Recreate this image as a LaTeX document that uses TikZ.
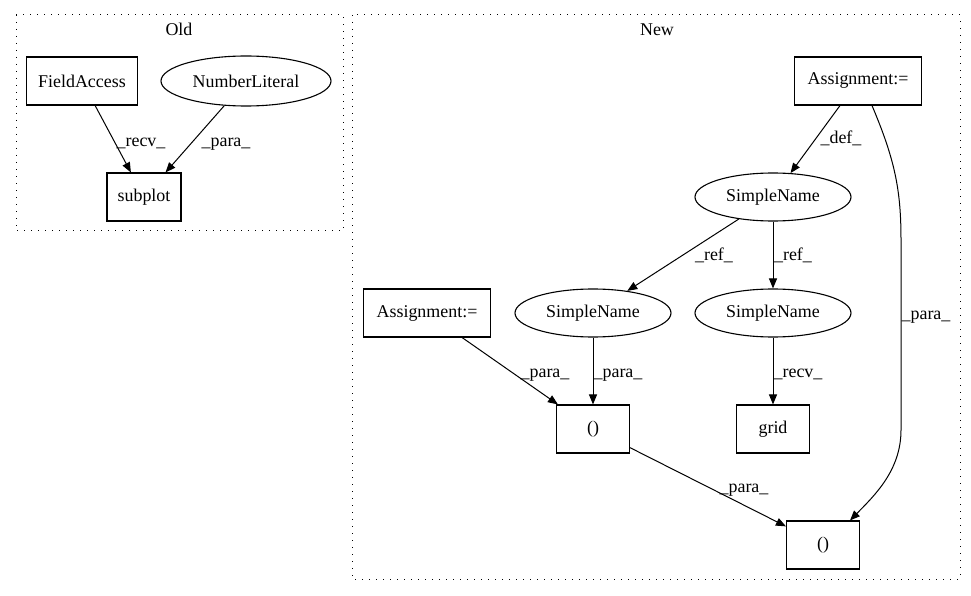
\documentclass[tikz,border=0pt]{standalone}
\usepackage{fontspec}
\setmainfont{Liberation Serif}
\usetikzlibrary{arrows.meta,shapes.geometric}
\begin{document}
\begin{tikzpicture}[x=1bp,y=-1bp,
  every node/.style={font=\fontsize{18}{20}\selectfont},
  boxnode/.style={draw,line width=1.1bp,rectangle,inner sep=0,minimum height=48bp},
  ellnode/.style={draw,line width=1.1bp,ellipse,inner sep=0,minimum height=48bp},
  cluster/.style={draw,line width=1bp,dash pattern=on 1.2bp off 5.8bp},
  edge/.style={line width=1bp,-{Triangle[length=10bp,width=8bp]}},
  elabel/.style={anchor=base,inner sep=0},
  ctitle/.style={anchor=base,inner sep=0}]
\useasboundingbox (0,0) rectangle (971,596);
% clusters
\draw[cluster] (16,15) rectangle (343,231);
\node[ctitle] (oldt) at (179,36) {Old};
\draw[cluster] (352,15) rectangle (960,579);
\node[ctitle] (newt) at (657,36) {New};
% Old nodes
\node[boxnode,minimum width=111bp] (fa) at (82,81) {FieldAccess};
\node[ellnode,minimum width=170bp,minimum height=50bp] (nl) at (246,81) {NumberLiteral};
\node[boxnode,minimum width=74bp] (sp) at (144,197) {subplot};
\draw[edge] (fa) -- (sp);
\draw[edge] (nl) -- (sp);
\node[elabel] (l1) at (141,147) {\_recv\_};
\node[elabel] (l2) at (226,147) {\_para\_};
% New nodes
\node[boxnode,minimum width=127bp] (asg1) at (858,81) {Assignment:=};
\node[ellnode,minimum width=156bp] (sn1) at (773,197) {SimpleName};
\node[boxnode,minimum width=127bp] (asg2) at (427,313) {Assignment:=};
\node[ellnode,minimum width=156bp] (sn2) at (593,313) {SimpleName};
\node[ellnode,minimum width=156bp] (sn3) at (773,313) {SimpleName};
\node[boxnode,minimum width=73bp] (p1) at (593,429) {()};
\node[boxnode,minimum width=73bp] (gr) at (773,429) {grid};
\node[boxnode,minimum width=73bp] (p2) at (823,545) {()};
% edges
\draw[edge] (asg1) -- (sn1);
\node[elabel] (l3) at (841,144) {\_def\_};
\draw[edge] (sn1) -- (sn2);
\node[elabel] (l4) at (714,261) {\_ref\_};
\draw[edge] (sn1) -- (sn3);
\node[elabel] (l5) at (793,261) {\_ref\_};
\draw[edge] (asg2) -- (p1);
\node[elabel] (l6) at (545,377) {\_para\_};
\draw[edge] (sn2) -- (p1);
\node[elabel] (l7) at (618,377) {\_para\_};
\draw[edge] (sn3) -- (gr);
\node[elabel] (l8) at (798,377) {\_recv\_};
\draw[edge] (p1) -- (p2);
\node[elabel] (l9) at (744,492) {\_para\_};
\coordinate (c1) at (901,240);
\coordinate (c2) at (901,430);
\draw[edge] ([xshift=14bp]asg1.south) .. controls (895,160) and (901,190) .. (c1) -- (c2) .. controls (901,470) and (875,495) .. ([xshift=27bp]p2.north);
\node[elabel] (l10) at (926,319) {\_para\_};
\end{tikzpicture}
\end{document}
